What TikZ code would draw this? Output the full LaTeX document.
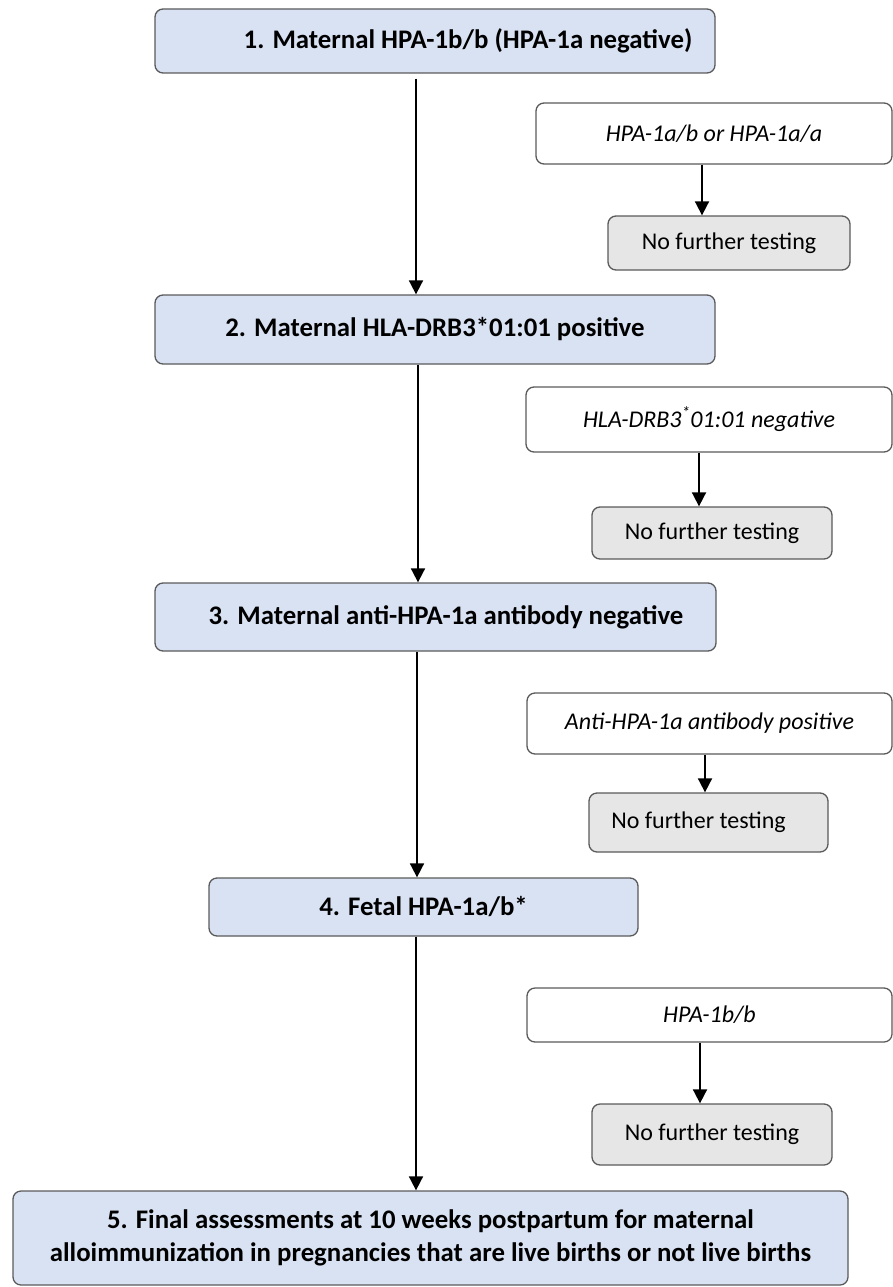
\documentclass[tikz,border=0pt]{standalone}
\usepackage{fontspec}
\setmainfont{Carlito}
\usetikzlibrary{arrows.meta}
\definecolor{boxblue}{HTML}{D9E2F3}
\definecolor{boxgray}{HTML}{E6E6E6}
\definecolor{edgegray}{HTML}{5A5A5A}

\begin{document}
\begin{tikzpicture}[x=1pt,y=-1pt,
  mainbox/.style={draw=edgegray,line width=1.3pt,fill=boxblue,rounded corners=8pt,inner sep=0pt,
    font=\fontsize{26.8}{33}\selectfont\bfseries,align=center},
  sidebox/.style={draw=edgegray,line width=1.3pt,fill=white,rounded corners=8pt,inner sep=0pt,
    font=\fontsize{24}{29}\selectfont\itshape},
  stopbox/.style={draw=edgegray,line width=1.3pt,fill=boxgray,rounded corners=8pt,inner sep=0pt,
    font=\fontsize{24}{29}\selectfont},
  arr/.style={line width=1.8pt,-{Triangle[width=14pt,length=14pt]}}]
\useasboundingbox (0,0) rectangle (893,1287);
\node[mainbox,minimum width=560pt,minimum height=64pt] (m1) at (435,41)
  {\hspace*{66pt}1. Maternal HPA-1b/b (HPA-1a negative)};
\node[mainbox,minimum width=560pt,minimum height=69pt] (m2) at (435,329.5) {2. Maternal HLA-DRB3*01:01 positive};
\node[mainbox,minimum width=561pt,minimum height=68pt] (m3) at (435.5,617)
  {\hspace*{21pt}3. Maternal anti-HPA-1a antibody negative};
\node[mainbox,minimum width=429pt,minimum height=58pt] (m4) at (423.5,907) {4. Fetal HPA-1a/b*};
\node[mainbox,minimum width=835pt,minimum height=94pt] (m5) at (430.5,1238)
  {5. Final assessments at 10 weeks postpartum for maternal\\alloimmunization in pregnancies that are live births or not live births};
\node[sidebox,minimum width=356pt,minimum height=61pt] (s1) at (714,133.5) {HPA-1a/b or HPA-1a/a};
\node[stopbox,minimum width=242pt,minimum height=54pt] (n1) at (729,243) {No further testing};
\node[sidebox,minimum width=366pt,minimum height=65pt] (s2) at (709,419.5) {HLA-DRB3\textsuperscript{*}01:01 negative};
\node[stopbox,minimum width=240pt,minimum height=52pt] (n2) at (712,533) {No further testing};
\node[sidebox,minimum width=365pt,minimum height=61pt] (s3) at (709.5,723.5) {Anti-HPA-1a antibody positive};
\node[stopbox,minimum width=239pt,minimum height=59pt] (n3) at (708.5,822.5) {No further testing\hspace*{20pt}};
\node[sidebox,minimum width=365pt,minimum height=54pt] (s4) at (709.5,1015) {HPA-1b/b};
\node[stopbox,minimum width=240pt,minimum height=61pt] (n4) at (712,1134.5) {No further testing};
\draw[arr,shorten <=5pt] ([xshift=-19pt]m1.south) -- ([xshift=-19pt]m2.north);
\draw[arr] ([xshift=-17pt]m2.south) -- ([xshift=-17.5pt]m3.north);
\draw[arr] ([xshift=-18.5pt]m3.south) -- ([xshift=-6.5pt]m4.north);
\draw[arr] ([xshift=-7.5pt]m4.south) -- ([xshift=-14.5pt]m5.north);
\draw[arr] ([xshift=-12pt]s1.south) -- ([xshift=-27pt]n1.north);
\draw[arr] ([xshift=-10pt]s2.south) -- ([xshift=-13pt]n2.north);
\draw[arr] ([xshift=-4.5pt]s3.south) -- ([xshift=-3.5pt]n3.north);
\draw[arr] ([xshift=-9.5pt]s4.south) -- ([xshift=-12pt]n4.north);
\end{tikzpicture}
\end{document}
